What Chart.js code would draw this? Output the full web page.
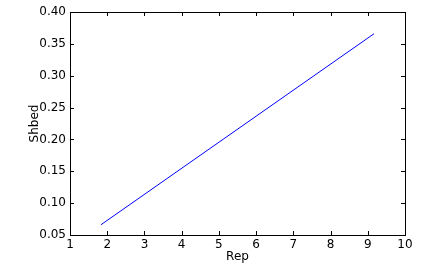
<!DOCTYPE html>
<html>
<head>
<meta charset="utf-8">
<script src="https://cdn.jsdelivr.net/npm/chart.js@4/dist/chart.umd.min.js"></script>
<style>
  html, body { margin: 0; padding: 0; background: #fff; }
  #wrap { width: 425px; height: 275px; position: relative; }
</style>
</head>
<body>
<div id="wrap"><canvas id="chart"></canvas></div>
<script>
// --- data ---
const repValues = [1.83, 9.17];
const shbedValues = [0.066, 0.366];
const xTicks = [1, 2, 3, 4, 5, 6, 7, 8, 9, 10];
const yTicks = [0.05, 0.10, 0.15, 0.20, 0.25, 0.30, 0.35, 0.40];

const points = repValues.map((x, i) => ({ x: x, y: shbedValues[i] }));

// matplotlib-like frame with inward ticks on all four sides
const frameTicks = {
    id: 'frameTicks',
    afterDraw(chart) {
        const { ctx, chartArea: a, scales } = chart;
        const len = 4;
        ctx.save();
        ctx.strokeStyle = '#000';
        ctx.lineWidth = 1;
        ctx.beginPath();
        xTicks.forEach(v => {
            const px = Math.round(scales.x.getPixelForValue(v)) + 0.5;
            ctx.moveTo(px, a.bottom); ctx.lineTo(px, a.bottom - len);
            ctx.moveTo(px, a.top); ctx.lineTo(px, a.top + len);
        });
        yTicks.forEach(v => {
            const py = Math.round(scales.y.getPixelForValue(v)) + 0.5;
            ctx.moveTo(a.left, py); ctx.lineTo(a.left + len, py);
            ctx.moveTo(a.right, py); ctx.lineTo(a.right - len, py);
        });
        ctx.stroke();
        ctx.strokeRect(Math.round(a.left) + 0.5, Math.round(a.top) + 0.5,
            Math.round(a.right - a.left), Math.round(a.bottom - a.top));
        ctx.restore();
    }
};

const tickFont = { family: "'DejaVu Sans', sans-serif", size: 12 };

new Chart(document.getElementById('chart'), {
    type: 'scatter',
    data: {
        datasets: [{
            data: points,
            showLine: true,
            borderColor: '#0000ff',
            borderWidth: 1,
            pointRadius: 0,
            fill: false
        }]
    },
    options: {
        responsive: true,
        maintainAspectRatio: false,
        animation: false,
        layout: { padding: { top: 12, right: 20, left: 0, bottom: 0 } },
        plugins: { legend: { display: false }, tooltip: { enabled: false } },
        scales: {
            x: {
                type: 'linear',
                min: 1,
                max: 10,
                afterFit(scale) { scale.height = 40; },
                afterBuildTicks(scale) { scale.ticks = xTicks.map(v => ({ value: v })); },
                grid: { display: false, drawTicks: false },
                border: { display: false },
                ticks: {
                    color: '#000',
                    font: tickFont,
                    padding: 3,
                    maxRotation: 0,
                    autoSkip: false,
                    callback: v => String(v)
                },
                title: {
                    display: true,
                    text: 'Rep',
                    color: '#000',
                    font: tickFont,
                    padding: { top: 0, bottom: 11 }
                }
            },
            y: {
                type: 'linear',
                min: 0.05,
                max: 0.40,
                afterFit(scale) { scale.width = 70; },
                afterBuildTicks(scale) { scale.ticks = yTicks.map(v => ({ value: v })); },
                grid: { display: false, drawTicks: false },
                border: { display: false },
                ticks: {
                    color: '#000',
                    font: tickFont,
                    padding: 4,
                    autoSkip: false,
                    callback: v => v.toFixed(2)
                },
                title: {
                    display: true,
                    text: 'Shbed',
                    color: '#000',
                    font: tickFont,
                    padding: { top: 28, bottom: 28 }
                }
            }
        }
    },
    plugins: [frameTicks]
});
</script>
</body>
</html>
